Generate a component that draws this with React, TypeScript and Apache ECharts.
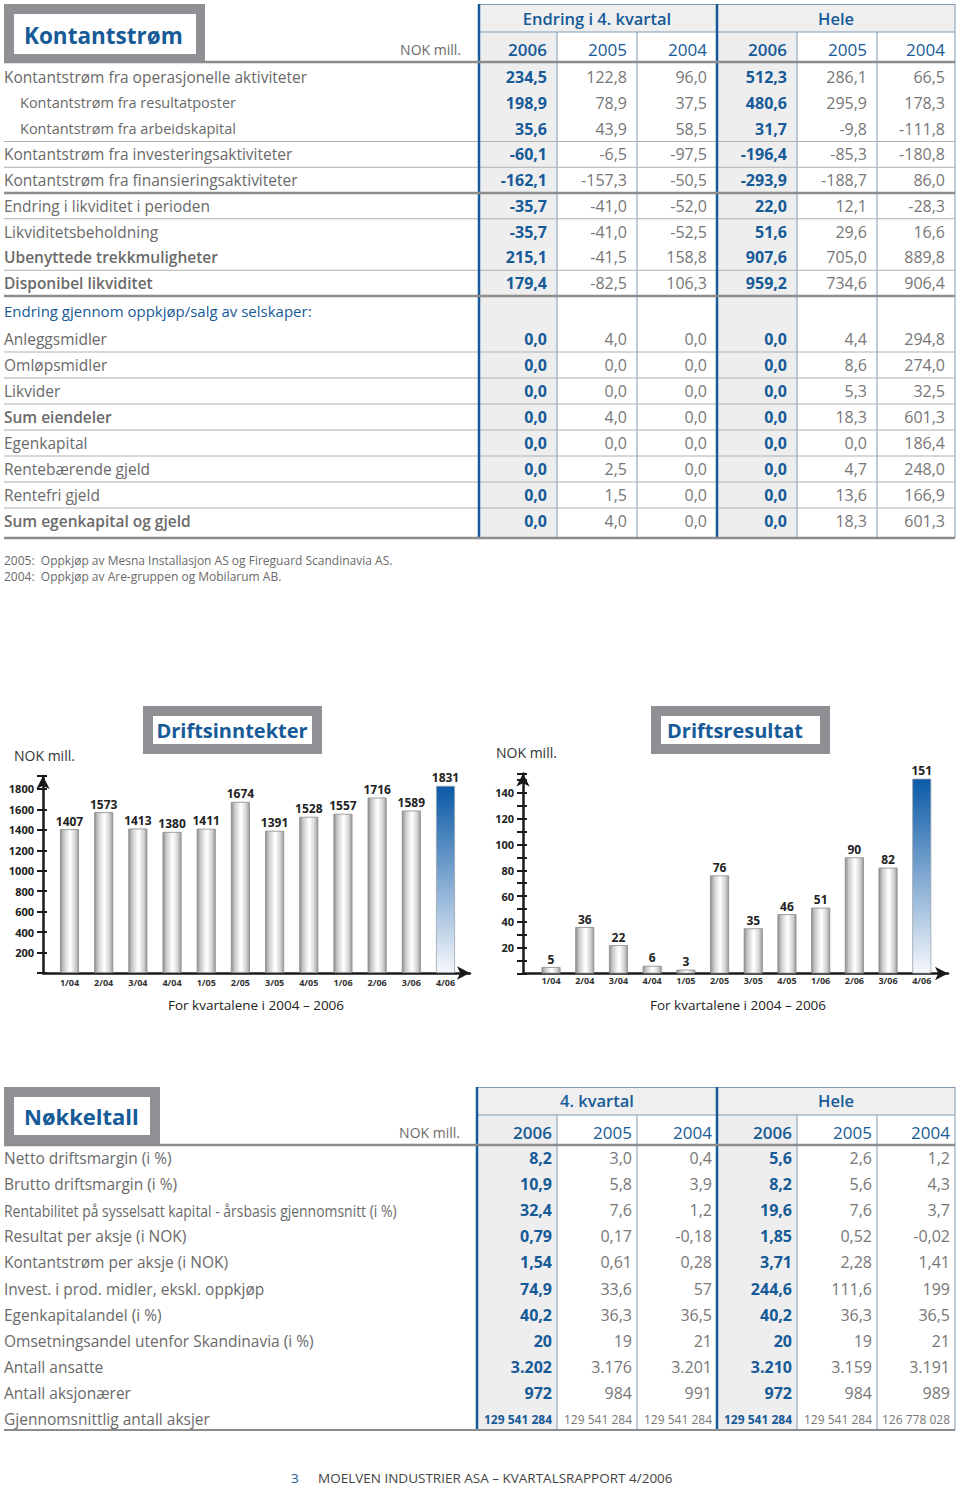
import React, { useEffect, useRef } from "react";
import * as echarts from "echarts";

// ---------- Kontantstrøm table ----------
const cashLabels = [
  "Kontantstrøm fra operasjonelle aktiviteter",
  "Kontantstrøm fra resultatposter",
  "Kontantstrøm fra arbeidskapital",
  "Kontantstrøm fra investeringsaktiviteter",
  "Kontantstrøm fra finansieringsaktiviteter",
  "Endring i likviditet i perioden",
  "Likviditetsbeholdning",
  "Ubenyttede trekkmuligheter",
  "Disponibel likviditet",
  "Endring gjennom oppkjøp/salg av selskaper:",
  "Anleggsmidler",
  "Omløpsmidler",
  "Likvider",
  "Sum eiendeler",
  "Egenkapital",
  "Rentebærende gjeld",
  "Rentefri gjeld",
  "Sum egenkapital og gjeld",
];
const cashQ2006 = [234.5, 198.9, 35.6, -60.1, -162.1, -35.7, -35.7, 215.1, 179.4, null, 0, 0, 0, 0, 0, 0, 0, 0];
const cashQ2005 = [122.8, 78.9, 43.9, -6.5, -157.3, -41.0, -41.0, -41.5, -82.5, null, 4.0, 0, 0, 4.0, 0, 2.5, 1.5, 4.0];
const cashQ2004 = [96.0, 37.5, 58.5, -97.5, -50.5, -52.0, -52.5, 158.8, 106.3, null, 0, 0, 0, 0, 0, 0, 0, 0];
const cashY2006 = [512.3, 480.6, 31.7, -196.4, -293.9, 22.0, 51.6, 907.6, 959.2, null, 0, 0, 0, 0, 0, 0, 0, 0];
const cashY2005 = [286.1, 295.9, -9.8, -85.3, -188.7, 12.1, 29.6, 705.0, 734.6, null, 4.4, 8.6, 5.3, 18.3, 0.0, 4.7, 13.6, 18.3];
const cashY2004 = [66.5, 178.3, -111.8, -180.8, 86.0, -28.3, 16.6, 889.8, 906.4, null, 294.8, 274.0, 32.5, 601.3, 186.4, 248.0, 166.9, 601.3];
const cashGroupHeaders = ["Endring i 4. kvartal", "Hele"];
const yearHeaders = ["2006", "2005", "2004", "2006", "2005", "2004"];
const footnotes = [
  "2005:  Oppkjøp av Mesna Installasjon AS og Fireguard Scandinavia AS.",
  "2004:  Oppkjøp av Are-gruppen og Mobilarum AB.",
];

// ---------- Charts ----------
const quarters = ["1/04", "2/04", "3/04", "4/04", "1/05", "2/05", "3/05", "4/05", "1/06", "2/06", "3/06", "4/06"];
const revenue = [1407, 1573, 1413, 1380, 1411, 1674, 1391, 1528, 1557, 1716, 1589, 1831];
const opResult = [5, 36, 22, 6, 3, 76, 35, 46, 51, 90, 82, 151];

// ---------- Nøkkeltall table ----------
const keyLabels = [
  "Netto driftsmargin (i %)",
  "Brutto driftsmargin (i %)",
  "Rentabilitet på sysselsatt kapital - årsbasis gjennomsnitt (i %)",
  "Resultat per aksje (i NOK)",
  "Kontantstrøm per aksje (i NOK)",
  "Invest. i prod. midler, ekskl. oppkjøp",
  "Egenkapitalandel (i %)",
  "Omsetningsandel utenfor Skandinavia (i %)",
  "Antall ansatte",
  "Antall aksjonærer",
  "Gjennomsnittlig antall aksjer",
];
const keyQ2006 = ["8,2", "10,9", "32,4", "0,79", "1,54", "74,9", "40,2", "20", "3.202", "972", "129 541 284"];
const keyQ2005 = ["3,0", "5,8", "7,6", "0,17", "0,61", "33,6", "36,3", "19", "3.176", "984", "129 541 284"];
const keyQ2004 = ["0,4", "3,9", "1,2", "-0,18", "0,28", "57", "36,5", "21", "3.201", "991", "129 541 284"];
const keyY2006 = ["5,6", "8,2", "19,6", "1,85", "3,71", "244,6", "40,2", "20", "3.210", "972", "129 541 284"];
const keyY2005 = ["2,6", "5,6", "7,6", "0,52", "2,28", "111,6", "36,3", "19", "3.159", "984", "129 541 284"];
const keyY2004 = ["1,2", "4,3", "3,7", "-0,02", "1,41", "199", "36,5", "21", "3.191", "989", "126 778 028"];
const keyGroupHeaders = ["4. kvartal", "Hele"];

const footerText = "MOELVEN INDUSTRIER ASA – KVARTALSRAPPORT 4/2006";

// ---------- styling ----------
const FONT = '"Open Sans", "Noto Sans", sans-serif';
const BLUE = "#165a97";
const LABEL = "#6a6a6a";
const VAL = "#777777";
const FRAME = "#8e9094";
const HEADBG = "#efefef";
const COLBG = "#eeeeee";
const THIN = "#7f9bb5";
const ROWLINE = "#b0b0b0";
const THICK = "#8c8c8c";

const fmt = (v: number | null) => (v == null ? "" : v.toFixed(1).replace(".", ","));

function buildGraphic() {
  const els: any[] = [];
  const text = (x: number, y: number, s: string, size: number, fill: string, weight = "normal", align = "left", extra: any = {}) =>
    els.push({
      type: "text", x, y, z: 10, silent: true, ...extra,
      style: { text: s, font: `${weight} ${size}px ${FONT}`, fill, textAlign: align, align, textVerticalAlign: "middle", verticalAlign: "middle" },
    });
  const line = (x1: number, y1: number, x2: number, y2: number, stroke: string, w: number, z = 5) =>
    els.push({ type: "line", z, silent: true, shape: { x1, y1, x2, y2 }, style: { stroke, lineWidth: w } });
  const rect = (x: number, y: number, w: number, h: number, fill: string, z = 1) =>
    els.push({ type: "rect", z, silent: true, shape: { x, y, width: w, height: h }, style: { fill } });

  // ===== Kontantstrøm =====
  rect(4, 4, 201, 58, FRAME);
  rect(14, 14, 182, 40, "#ffffff", 2);
  text(24, 35, "Kontantstrøm", 22.5, BLUE, "bold");
  text(461, 49, "NOK mill.", 14, LABEL, "normal", "right");

  const e1 = [478, 557, 637, 717, 797, 877, 955];
  const top1 = 4, bot1 = 538;
  rect(478, 4, 477, 28, HEADBG);
  rect(478, 32, 79, bot1 - 32, COLBG);
  rect(717, 32, 80, bot1 - 32, COLBG);
  line(478, 4.5, 955, 4.5, THIN, 1);
  line(478, 32, 955, 32, THIN, 1);
  [557, 637, 797, 877].forEach((x) => line(x, 32, x, bot1, THIN, 1));
  line(955, top1, 955, bot1, THIN, 1);
  line(479, top1, 479, bot1, BLUE, 2.5, 6);
  line(717, top1, 717, bot1, BLUE, 2.5, 6);
  text(597, 18, cashGroupHeaders[0], 16.5, BLUE, "600", "center");
  text(836, 18, cashGroupHeaders[1], 16.5, BLUE, "600", "center");
  yearHeaders.forEach((y, i) => text(e1[i + 1] - 10, 49, y, 17, BLUE, i % 3 === 0 ? "600" : "normal", "right"));
  line(4, 62, 955, 62, THICK, 2.5, 7);

  const cols1 = [cashQ2006, cashQ2005, cashQ2004, cashY2006, cashY2005, cashY2004];
  const subRows = [1, 2];
  const boldRows = [7, 8, 13, 17];
  const headRow = 9;
  const rowY1 = (i: number) => (i <= 8 ? 77 + i * 25.75 : i === 9 ? 311 : 339 + (i - 10) * 26);
  cashLabels.forEach((lab, i) => {
    const y = rowY1(i);
    if (i === headRow) {
      text(4, y, lab, 15, BLUE, "normal");
    } else {
      const sub = subRows.includes(i);
      text(sub ? 20 : 4, y, lab, sub ? 14.5 : 15.5, LABEL, boldRows.includes(i) ? "600" : "normal");
    }
    cols1.forEach((col, c) => {
      const hi = c % 3 === 0;
      text(e1[c + 1] - 10, y, fmt(col[i]), 16, hi ? BLUE : VAL, hi ? "bold" : "normal", "right");
    });
  });
  // row separators
  const thinAfter = [2, 3, 5, 7, 10, 11, 12, 13, 14, 15, 16];
  thinAfter.forEach((i) => line(4, rowY1(i) + 13, 955, rowY1(i) + 13, ROWLINE, 1));
  [4, 8].forEach((i) => line(4, rowY1(i) + 13, 955, rowY1(i) + 13, THICK, 2.5, 7));
  line(4, bot1, 955, bot1, THICK, 2.5, 7);

  footnotes.forEach((f, i) => text(4, 560 + i * 16, f, 12, LABEL));

  // ===== chart decorations =====
  rect(143, 706, 179, 48, FRAME);
  rect(153, 716, 159, 28, "#ffffff", 2);
  text(232, 730, "Driftsinntekter", 20, BLUE, "bold", "center");
  rect(651, 706, 179, 48, FRAME);
  rect(661, 716, 159, 28, "#ffffff", 2);
  text(667, 730, "Driftsresultat", 20, BLUE, "bold", "left");
  text(14, 755, "NOK mill.", 14, "#333333");
  text(496, 752, "NOK mill.", 14, "#333333");
  text(256, 1005, "For kvartalene i 2004 – 2006", 13.5, "#222222", "normal", "center");
  text(738, 1005, "For kvartalene i 2004 – 2006", 13.5, "#222222", "normal", "center");

  // ===== Nøkkeltall =====
  rect(4, 1087, 156, 58, FRAME);
  rect(14, 1097, 136, 38, "#ffffff", 2);
  text(24, 1116, "Nøkkeltall", 22, BLUE, "bold");
  text(460, 1132, "NOK mill.", 14, LABEL, "normal", "right");
  const e2 = [476, 557, 637, 717, 797, 877, 955];
  const top2 = 1087, bot2 = 1430;
  rect(476, top2, 479, 28, HEADBG);
  rect(476, 1115, 81, bot2 - 1115, COLBG);
  rect(717, 1115, 80, bot2 - 1115, COLBG);
  line(476, top2 + 0.5, 955, top2 + 0.5, THIN, 1);
  line(476, 1115, 955, 1115, THIN, 1);
  [557, 637, 797, 877].forEach((x) => line(x, 1115, x, bot2, THIN, 1));
  line(955, top2, 955, bot2, THIN, 1);
  line(477, top2, 477, bot2, BLUE, 2.5, 6);
  line(717, top2, 717, bot2, BLUE, 2.5, 6);
  text(597, 1100, keyGroupHeaders[0], 16.5, BLUE, "600", "center");
  text(836, 1100, keyGroupHeaders[1], 16.5, BLUE, "600", "center");
  yearHeaders.forEach((y, i) => text(e2[i + 1] - 5, 1132, y, 17, BLUE, i % 3 === 0 ? "600" : "normal", "right"));
  line(4, 1145, 955, 1145, THICK, 2.5, 7);
  const cols2 = [keyQ2006, keyQ2005, keyQ2004, keyY2006, keyY2005, keyY2004];
  keyLabels.forEach((lab, i) => {
    const y = 1158 + i * 26.1;
    text(4, y, lab, 15.5, LABEL, "normal", "left", lab.length > 50 ? { scaleX: 0.9 } : {});
    const small = i === keyLabels.length - 1;
    cols2.forEach((col, c) => {
      const hi = c % 3 === 0;
      text(e2[c + 1] - 5, y, col[i], small ? 12 : 16, hi ? BLUE : VAL, hi ? "bold" : "normal", "right");
    });
  });
  line(4, bot2, 955, bot2, THICK, 2, 7);

  // ===== footer =====
  text(291, 1478, "3", 13.5, BLUE);
  text(318, 1478, footerText, 13.5, "#444444", "normal", "left");
  return els;
}

const grayBar = {
  color: {
    type: "linear", x: 0, y: 0, x2: 1, y2: 0,
    colorStops: [
      { offset: 0, color: "#8e8e8e" },
      { offset: 0.18, color: "#c8c8c8" },
      { offset: 0.45, color: "#f5f5f5" },
      { offset: 0.55, color: "#ffffff" },
      { offset: 0.82, color: "#d2d2d2" },
      { offset: 1, color: "#9a9a9a" },
    ],
  },
  borderColor: "#8a8a8a",
  borderWidth: 0.8,
};
const blueBar = {
  color: {
    type: "linear", x: 0, y: 0, x2: 0, y2: 1,
    colorStops: [
      { offset: 0, color: "#0a59a6" },
      { offset: 1, color: "#f5f7fb" },
    ],
  },
  borderColor: "#9aa3ad",
  borderWidth: 0.8,
};

const axisLineStyle = { color: "#1a1a1a", width: 2.5 };

function axesPair(gridIndex: number, max: number, interval: number, labelMax: number, labelStep: number) {
  return [
    {
      gridIndex, type: "value", min: 0, max, interval,
      axisLine: { show: true, symbol: ["none", "arrow"], symbolSize: [10, 13], lineStyle: axisLineStyle },
      axisTick: { show: true, length: 6, lineStyle: { color: "#1a1a1a", width: 2 } },
      axisLabel: {
        margin: 9, fontSize: 11, fontWeight: "bold", color: "#222222", fontFamily: FONT,
        formatter: (v: number) => (v > 0 && v <= labelMax && v % labelStep === 0 ? String(v) : ""),
      },
      splitLine: { show: false },
    },
    {
      gridIndex, type: "value", min: 0, max, interval, position: "left",
      axisLine: { show: false },
      axisTick: { show: true, inside: true, length: 4, lineStyle: { color: "#1a1a1a", width: 2 } },
      axisLabel: { show: false },
      splitLine: { show: false },
    },
  ];
}

function barSeries(xAxisIndex: number, yAxisIndex: number, values: number[]) {
  return {
    type: "bar", xAxisIndex, yAxisIndex, barWidth: 19,
    data: values.map((v, i) => ({ value: v, itemStyle: i === values.length - 1 ? blueBar : grayBar })),
    label: { show: true, position: "top", distance: 2, fontSize: 12, fontWeight: "bold", color: "#222222", fontFamily: FONT },
  };
}

const catAxis = (gridIndex: number, margin: number) => ({
  gridIndex, type: "category", data: quarters,
  axisLine: { show: false }, axisTick: { show: false },
  axisLabel: { margin, fontSize: 9, fontWeight: "bold", color: "#333333", fontFamily: FONT },
});
const lineXAxis = (gridIndex: number) => ({
  gridIndex, type: "value", min: 0, max: 1,
  axisLine: { show: true, symbol: ["none", "arrow"], symbolSize: [10, 13], lineStyle: axisLineStyle },
  axisTick: { show: false }, axisLabel: { show: false }, splitLine: { show: false },
});

export default function App() {
  const ref = useRef<HTMLDivElement>(null);
  useEffect(() => {
    document.body.style.margin = "0";
    const chart = echarts.init(ref.current!, null, { renderer: "svg" });
    const max1 = 1927;
    const max2 = 155;
    const option: any = {
      animation: false,
      graphic: { elements: buildGraphic() },
      grid: [
        { left: 43, top: 776, width: 427, height: 197 },
        { left: 52.4, top: 776, width: 410.2, height: 197 },
        { left: 523, top: 773.5, width: 425, height: 200 },
        { left: 534.2, top: 773.5, width: 404.4, height: 200 },
      ],
      xAxis: [lineXAxis(0), catAxis(1, 5), lineXAxis(2), catAxis(3, 2)],
      yAxis: [
        ...axesPair(0, max1, 200, 1800, 200),
        { gridIndex: 1, type: "value", min: 0, max: max1, show: false },
        ...axesPair(2, max2, 10, 140, 20),
        { gridIndex: 3, type: "value", min: 0, max: max2, show: false },
      ],
      series: [barSeries(1, 2, revenue), barSeries(3, 5, opResult)],
    };
    chart.setOption(option);
    return () => chart.dispose();
  }, []);
  return <div ref={ref} style={{ width: 960, height: 1489 }} />;
}
